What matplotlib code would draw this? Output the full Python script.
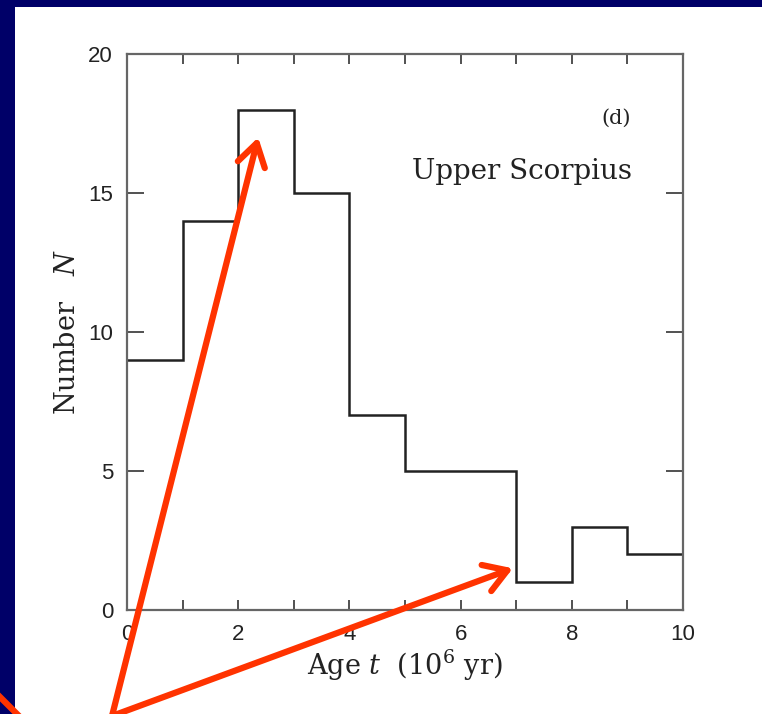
import matplotlib.pyplot as plt
import numpy as np
from matplotlib.patches import Rectangle

plt.rcParams["mathtext.fontset"] = "dejavuserif"

# Age distribution of stars in Upper Scorpius
edges = [0, 1, 2, 3, 4, 5, 6, 7, 8, 9, 10]
counts = [9, 14, 18, 15, 7, 5, 5, 1, 3, 2]

# arrow targets in data units
arrow_tips = [(2.36, 17.0), (6.94, 1.5)]

W, H = 762, 714
fig = plt.figure(figsize=(W / 100, H / 100), dpi=100)
fig.patch.set_facecolor("#000068")

# white slide panel behind the axes
fig.patches.append(Rectangle((15 / W, 0), 1 - 15 / W, 1 - 7 / H,
                             transform=fig.transFigure, facecolor="white",
                             edgecolor="none", zorder=-1))

ax = fig.add_axes([127 / W, (H - 610) / H, (683 - 127) / W, (610 - 54) / H])
ax.set_facecolor("white")
ax.stairs(counts, edges, baseline=None, color="#222222", linewidth=1.8)

ax.set_xlim(0, 10)
ax.set_ylim(0, 20)
ax.set_xticks(np.arange(0, 11, 2))
ax.set_xticks(np.arange(0, 11, 1), minor=True)
ax.set_yticks(np.arange(0, 21, 5))

for s in ax.spines.values():
    s.set_color("#666666")
    s.set_linewidth(1.6)

ax.tick_params(axis="both", which="both", direction="in", top=True, right=True,
               color="#333333", width=1.2)
ax.tick_params(axis="x", which="both", length=7)
ax.tick_params(axis="y", which="major", length=12)
ax.tick_params(axis="both", which="major", pad=10, labelsize=16,
               labelcolor="#222222")
for lab in ax.get_xticklabels() + ax.get_yticklabels():
    lab.set_family("Liberation Sans")

ax.set_xlabel(r"Age $t$  (10$^6$ yr)", family="DejaVu Serif", fontsize=19.5,
              color="#222222", labelpad=2)
ax.set_ylabel(r"Number   $N$", family="DejaVu Serif", fontsize=19.5,
              color="#222222", labelpad=5)

ax.text(0.88, 0.885, "(d)", transform=ax.transAxes, family="DejaVu Serif",
        fontsize=15, ha="center", va="center", color="#222222")
ax.text(0.71, 0.788, "Upper Scorpius", transform=ax.transAxes,
        family="DejaVu Serif", fontsize=20, ha="center", va="center",
        color="#222222")

# red pointer arrows from below the chart
red = "#ff3300"
for tip in arrow_tips:
    ax.annotate("", xy=tip, xycoords="data", xytext=(112, -2),
                textcoords="figure pixels", annotation_clip=False,
                arrowprops=dict(arrowstyle="->,head_length=0.8,head_width=0.5",
                                color=red, lw=4.5, mutation_scale=20,
                                shrinkA=0, shrinkB=0))
fig.add_artist(plt.Line2D([0, 17 / W], [1 - 697 / H, 0], color=red, lw=4.5,
                          transform=fig.transFigure))

fig.savefig("out.png", dpi=100, facecolor=fig.get_facecolor())
